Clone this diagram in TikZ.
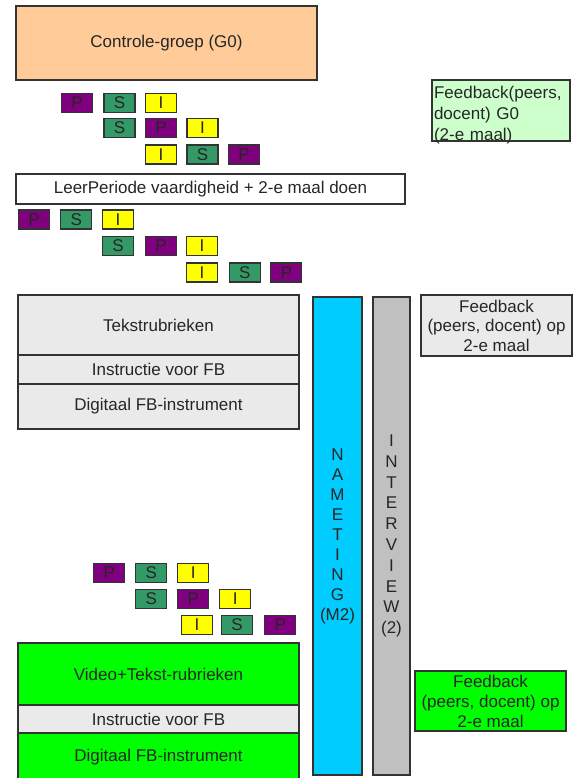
\documentclass[tikz,border=0pt]{standalone}
\usepackage{fontspec}
\setmainfont{Liberation Sans}
\usetikzlibrary{positioning}

\definecolor{peach}{HTML}{FFCC99}
\definecolor{palegreen}{HTML}{CCFFCC}
\definecolor{lightgrey}{HTML}{EAEAEA}
\definecolor{skyblue}{HTML}{00CCFF}
\definecolor{silvergrey}{HTML}{C0C0C0}
\definecolor{brightgreen}{HTML}{00FF00}
\definecolor{tcP}{HTML}{800080}
\definecolor{tcS}{HTML}{339966}
\definecolor{tcI}{HTML}{FFFF00}

\tikzset{
  box/.style={draw=black!80, line width=1.2pt, inner sep=0pt, outer sep=0pt,
    text=black!85, font=\fontsize{17}{20}\selectfont},
  tile/.style={box, minimum width=31pt, minimum height=19pt},
  layer/.style={box, minimum width=281pt},
}

\begin{document}
\begin{tikzpicture}[x=1pt, y=-1pt]
        \useasboundingbox (0,0) rectangle (578,778);

        \node[box, fill=peach, minimum width=301pt, minimum height=74pt] (g0) at (166.5,43) {Controle-groep (G0)};
        \node[box, fill=palegreen, minimum width=138pt, minimum height=61pt, text width=134pt, align=left,
          text height=12pt, text depth=35pt, font=\fontsize{17}{21}\selectfont] (fbg0) at (501,110.5)
          {Feedback(peers,\\docent) G0\\(2-e maal)};

        \foreach \x/\y/\t [count=\i] in {77/103/P, 119.5/103/S, 161/103/I,
            119.5/128/S, 161/128/P, 202.5/128/I, 161/154.5/I, 202.5/154.5/S, 244/154.5/P}
          \node[tile, fill=tc\t] (a\i) at (\x,\y) {\t};

        \node[box, fill=white, minimum width=389pt, minimum height=30pt] (leer) at (210.5,189) {LeerPeriode vaardigheid + 2-e maal doen};

        \foreach \x/\y/\t [count=\i] in {34/219.5/P, 76.3/219.5/S, 118/219.5/I,
            118/246/S, 161/246/P, 202/246/I, 202/272.5/I, 244.7/272.5/S, 286.3/272.5/P}
          \node[tile, fill=tc\t] (b\i) at (\x,\y) {\t};

        \node[layer, fill=lightgrey, minimum height=60pt] (tekst) at (158.5,325) {Tekstrubrieken};
        \node[layer, fill=lightgrey, minimum height=29pt, below=0pt of tekst] (instr1) {Instructie voor FB};
        \node[layer, fill=lightgrey, minimum height=45pt, below=0pt of instr1] (digi1) {Digitaal FB-instrument};

        \node[box, fill=skyblue, minimum width=49pt, minimum height=478pt, align=center] (meting) at (337.5,536)
          {N\\A\\M\\E\\T\\I\\N\\G\\(M2)};
        \node[box, fill=silvergrey, minimum width=37pt, minimum height=478pt, align=center,
          font=\fontsize{17}{20.8}\selectfont] (interview) at (391.5,536)
          {I\\N\\T\\E\\R\\V\\I\\E\\W\\(2)};

        \node[box, fill=lightgrey, minimum width=151pt, minimum height=61pt, align=center,
          font=\fontsize{17}{19.5}\selectfont] (fb1) at (496.5,325.5) {Feedback\\(peers, docent) op\\2-e maal};

        \foreach \x/\y/\t [count=\i] in {109.3/573/P, 151.3/573/S, 193.3/573/I,
            151.3/599/S, 193.3/599/P, 235.3/599/I, 197/625/I, 237/625/S, 280.3/625/P}
          \node[tile, fill=tc\t] (c\i) at (\x,\y) {\t};

        \node[layer, fill=brightgreen, minimum height=62pt] (video) at (158.5,674) {Video+Tekst-rubrieken};
        \node[layer, fill=lightgrey, minimum height=28pt, below=0pt of video] (instr2) {Instructie voor FB};
        \node[layer, fill=brightgreen, minimum height=48pt, below=0pt of instr2] (digi2) {Digitaal FB-instrument};

        \node[box, fill=brightgreen, minimum width=151pt, minimum height=60pt, align=center] (fb2) at (490.5,701)
          {Feedback\\(peers, docent) op\\2-e maal};
\end{tikzpicture}
\end{document}
